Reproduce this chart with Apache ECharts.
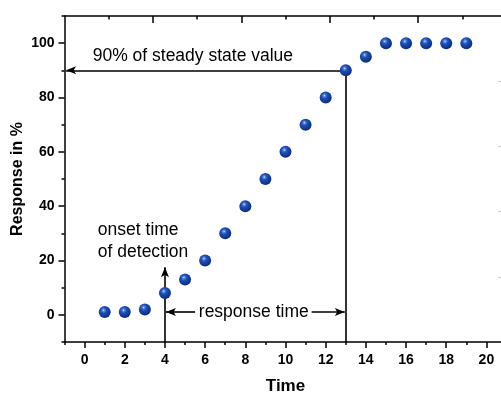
<!DOCTYPE html>
<html>
<head>
<meta charset="utf-8">
<script src="https://cdn.jsdelivr.net/npm/echarts@6/dist/echarts.min.js"></script>
<style>html,body{margin:0;padding:0;background:#fff}#c{width:501px;height:393px}</style>
</head>
<body>
<div id="c"></div>
<script>
// ---- data ----
const times = [1,2,3,4,5,6,7,8,9,10,11,12,13,14,15,16,17,18,19];
const responses = [1,1,2,8,13,20,30,40,50,60,70,80,90,95,100,100,100,100,100];
const xLabelValues = [0,2,4,6,8,10,12,14,16,18,20];
const xMinorValues = [-1,1,3,5,7,9,11,13,15,17,19,21];
const yLabelValues = [0,20,40,60,80,100];
const yMinorValues = [-10,10,30,50,70,90,110];
const topMajorValues = [2,4,6,8];
const topMinorValues = [1,3,5,7,9];
const rightTickValues = [1,2,3,4];
const onsetTime = 4;
const steadyTime = 13;
const steadyLevel = 90;

const FONT = 'Liberation Sans, Arial, Helvetica, sans-serif';
const black = '#000';

const sphere = {
  type: 'radial', x: 0.4, y: 0.34, r: 0.68,
  colorStops: [
    {offset: 0, color: '#eef4ff'},
    {offset: 0.12, color: '#5d8ce2'},
    {offset: 0.36, color: '#1d4fb6'},
    {offset: 1, color: '#0a2a7a'}
  ]
};

const chart = echarts.init(document.getElementById('c'), null, {renderer: 'canvas'});
const lineStyle = {color: black, width: 1.6, type: 'solid'};

chart.setOption({
  animation: false,
  backgroundColor: '#fff',
  grid: {left: 64.5, top: 16, width: 442, height: 326, containLabel: false, outerBoundsMode: 'none'},
  xAxis: [
    {
      type: 'value', position: 'bottom', min: -1, max: 21,
      axisLine: {show: true, onZero: false, lineStyle: {color: black, width: 1.5}},
      axisTick: {show: true, inside: false, length: 6, customValues: xLabelValues, lineStyle: {color: black, width: 1.5}},
      axisLabel: {show: true, customValues: xLabelValues, margin: 11, color: black, fontWeight: 'bold', fontSize: 14, fontFamily: FONT},
      splitLine: {show: false},
      name: 'Time', nameLocation: 'middle', nameGap: 36,
      nameTextStyle: {color: black, fontWeight: 'bold', fontSize: 17, fontFamily: FONT}
    },
    {
      type: 'value', position: 'bottom', min: -1, max: 21,
      axisLine: {show: false, onZero: false},
      axisTick: {show: true, inside: false, length: 3, customValues: xMinorValues, lineStyle: {color: black, width: 1.5}},
      axisLabel: {show: false}, splitLine: {show: false}
    },
    {
      type: 'value', position: 'top', min: 0, max: 10,
      axisLine: {show: true, onZero: false, lineStyle: {color: black, width: 1.5}},
      axisTick: {show: true, inside: true, length: 7, customValues: topMajorValues, lineStyle: {color: black, width: 1.5}},
      axisLabel: {show: false}, splitLine: {show: false}
    },
    {
      type: 'value', position: 'top', min: 0, max: 10,
      axisLine: {show: false, onZero: false},
      axisTick: {show: true, inside: true, length: 3.5, customValues: topMinorValues, lineStyle: {color: black, width: 1.5}},
      axisLabel: {show: false}, splitLine: {show: false}
    }
  ],
  yAxis: [
    {
      type: 'value', position: 'left', min: -10, max: 110,
      axisLine: {show: true, onZero: false, lineStyle: {color: black, width: 1.5}},
      axisTick: {show: true, inside: false, length: 6, customValues: yLabelValues, lineStyle: {color: black, width: 1.5}},
      axisLabel: {show: true, customValues: yLabelValues, margin: 10, color: black, fontWeight: 'bold', fontSize: 14, fontFamily: FONT},
      splitLine: {show: false},
      name: 'Response in %', nameLocation: 'middle', nameGap: 39, nameRotate: 90, nameMoveOverlap: false,
      nameTextStyle: {color: black, fontWeight: 'bold', fontSize: 16, fontFamily: FONT}
    },
    {
      type: 'value', position: 'left', min: -10, max: 110,
      axisLine: {show: false, onZero: false},
      axisTick: {show: true, inside: false, length: 3, customValues: yMinorValues, lineStyle: {color: black, width: 1.5}},
      axisLabel: {show: false}, splitLine: {show: false}
    },
    {
      type: 'value', position: 'right', min: 0, max: 5, inverse: true, offset: -6,
      axisLine: {show: false, onZero: false},
      axisTick: {show: true, inside: true, length: 2, customValues: rightTickValues, lineStyle: {color: '#bbb', width: 1.2}},
      axisLabel: {show: false}, splitLine: {show: false}
    }
  ],
  series: [
    {
      type: 'scatter', xAxisIndex: 0, yAxisIndex: 0, z: 5,
      data: times.map((t, i) => [t, responses[i]]),
      symbol: 'circle', symbolSize: 12,
      itemStyle: {color: sphere, opacity: 1}
    },
    {
      type: 'line', xAxisIndex: 0, yAxisIndex: 0, data: [], z: 3,
      markLine: {
        silent: true, animation: false,
        label: {show: false},
        symbolSize: [6, 10],
        lineStyle: lineStyle,
        data: [
          [{coord: [steadyTime, steadyLevel], symbol: 'none'}, {coord: [-0.92, steadyLevel], symbol: 'arrow'}],
          [{coord: [steadyTime, steadyLevel], symbol: 'none'}, {coord: [steadyTime, -10], symbol: 'none'}],
          [{coord: [onsetTime, -10], symbol: 'none'}, {coord: [onsetTime, 17.5], symbol: 'arrow'}],
          [{coord: [5.5, 1], symbol: 'none'}, {coord: [onsetTime + 0.05, 1], symbol: 'arrow'}],
          [{coord: [11.3, 1], symbol: 'none'}, {coord: [steadyTime - 0.05, 1], symbol: 'arrow'}]
        ]
      },
      markPoint: {
        silent: true, animation: false,
        symbol: 'circle', symbolSize: 0,
        label: {show: true, color: black, fontSize: 17.5, fontFamily: FONT},
        data: [
          {coord: [5.39, 95.3], label: {formatter: '90% of steady state value', position: 'inside'}},
          {coord: [0.66, 27.2], label: {formatter: 'onset time\nof detection', position: 'right', distance: 0, align: 'left', lineHeight: 22}},
          {coord: [8.42, 1.1], label: {formatter: 'response time', position: 'inside'}}
        ]
      }
    }
  ]
});
</script>
</body>
</html>
